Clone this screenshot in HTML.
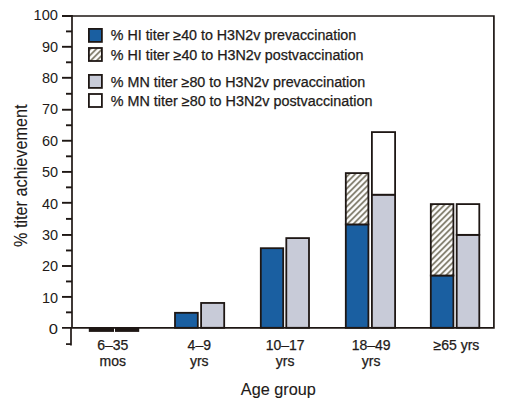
<!DOCTYPE html><html><head><meta charset="utf-8"><style>html,body{margin:0;padding:0;background:#fff;width:511px;height:400px;overflow:hidden}svg{display:block}text{font-family:"Liberation Sans",sans-serif;fill:#221a18;stroke:#221a18;stroke-width:0.25px}</style></head><body>
<svg width="511" height="400" viewBox="0 0 511 400">
<defs>
<pattern id="h" patternUnits="userSpaceOnUse" width="4.243" height="4.243" patternTransform="rotate(45)"><rect width="4.243" height="4.243" fill="#fff"/><rect x="0" y="0" width="1.9" height="4.243" fill="#848070"/></pattern>
</defs>
<g stroke="#1e1714" stroke-width="1.7" fill="none">
<polyline points="62,16 493.9,16 493.9,327.8 62,327.8" stroke-linejoin="miter"/>
<line x1="72" y1="15" x2="72" y2="327.8"/>
<line x1="71" y1="327.8" x2="71" y2="345.6"/>
<line x1="62" y1="296.90" x2="72" y2="296.90" stroke-width="1.9"/>
<line x1="62" y1="266.00" x2="72" y2="266.00" stroke-width="1.9"/>
<line x1="62" y1="234.95" x2="72" y2="234.95" stroke-width="1.9"/>
<line x1="62" y1="202.80" x2="72" y2="202.80" stroke-width="1.9"/>
<line x1="62" y1="171.90" x2="72" y2="171.90" stroke-width="1.9"/>
<line x1="62" y1="140.75" x2="72" y2="140.75" stroke-width="1.9"/>
<line x1="62" y1="109.75" x2="72" y2="109.75" stroke-width="1.9"/>
<line x1="62" y1="77.80" x2="72" y2="77.80" stroke-width="1.9"/>
<line x1="62" y1="46.80" x2="72" y2="46.80" stroke-width="1.9"/>
<line x1="62" y1="16.00" x2="72" y2="16.00" stroke-width="1.9"/>
<line x1="66" y1="312.35" x2="72" y2="312.35" stroke-width="1.9"/>
<line x1="66" y1="281.45" x2="72" y2="281.45" stroke-width="1.9"/>
<line x1="66" y1="250.47" x2="72" y2="250.47" stroke-width="1.9"/>
<line x1="66" y1="218.88" x2="72" y2="218.88" stroke-width="1.9"/>
<line x1="66" y1="187.35" x2="72" y2="187.35" stroke-width="1.9"/>
<line x1="66" y1="156.32" x2="72" y2="156.32" stroke-width="1.9"/>
<line x1="66" y1="125.25" x2="72" y2="125.25" stroke-width="1.9"/>
<line x1="66" y1="93.78" x2="72" y2="93.78" stroke-width="1.9"/>
<line x1="66" y1="62.30" x2="72" y2="62.30" stroke-width="1.9"/>
<line x1="66" y1="31.40" x2="72" y2="31.40" stroke-width="1.9"/>
<line x1="66" y1="344.1" x2="71" y2="344.1"/>
</g>
<text x="58" y="334.10" font-size="15" style="stroke-width:0" text-anchor="end" textLength="9.2" lengthAdjust="spacingAndGlyphs">0</text>
<text x="58" y="302.71" font-size="15" style="stroke-width:0" text-anchor="end" textLength="16.1" lengthAdjust="spacingAndGlyphs">10</text>
<text x="58" y="271.32" font-size="15" style="stroke-width:0" text-anchor="end" textLength="16.1" lengthAdjust="spacingAndGlyphs">20</text>
<text x="58" y="239.93" font-size="15" style="stroke-width:0" text-anchor="end" textLength="16.1" lengthAdjust="spacingAndGlyphs">30</text>
<text x="58" y="208.54" font-size="15" style="stroke-width:0" text-anchor="end" textLength="16.1" lengthAdjust="spacingAndGlyphs">40</text>
<text x="58" y="177.15" font-size="15" style="stroke-width:0" text-anchor="end" textLength="16.1" lengthAdjust="spacingAndGlyphs">50</text>
<text x="58" y="145.76" font-size="15" style="stroke-width:0" text-anchor="end" textLength="16.1" lengthAdjust="spacingAndGlyphs">60</text>
<text x="58" y="114.37" font-size="15" style="stroke-width:0" text-anchor="end" textLength="16.1" lengthAdjust="spacingAndGlyphs">70</text>
<text x="58" y="82.98" font-size="15" style="stroke-width:0" text-anchor="end" textLength="16.1" lengthAdjust="spacingAndGlyphs">80</text>
<text x="58" y="51.59" font-size="15" style="stroke-width:0" text-anchor="end" textLength="16.1" lengthAdjust="spacingAndGlyphs">90</text>
<text x="58" y="20.20" font-size="15" style="stroke-width:0" text-anchor="end" textLength="24.4" lengthAdjust="spacingAndGlyphs">100</text>
<rect x="88.8" y="327.8" width="25.2" height="4.1" fill="#1e1714"/>
<rect x="115" y="327.8" width="24.2" height="4.1" fill="#1e1714"/>
<rect x="175.00" y="312.80" width="22.80" height="15.00" fill="#1a5fa1" stroke="#1e1714" stroke-width="1.8"/>
<rect x="201.10" y="302.95" width="23.10" height="24.85" fill="#c8cbd8" stroke="#1e1714" stroke-width="1.8"/>
<rect x="260.80" y="248.20" width="22.40" height="79.60" fill="#1a5fa1" stroke="#1e1714" stroke-width="1.8"/>
<rect x="286.30" y="238.10" width="22.70" height="89.70" fill="#c8cbd8" stroke="#1e1714" stroke-width="1.8"/>
<rect x="345.80" y="224.40" width="22.60" height="103.40" fill="#1a5fa1" stroke="#1e1714" stroke-width="1.8"/>
<rect x="345.80" y="173.10" width="22.60" height="51.30" fill="url(#h)" stroke="#1e1714" stroke-width="1.8"/>
<rect x="371.90" y="194.70" width="23.20" height="133.10" fill="#c8cbd8" stroke="#1e1714" stroke-width="1.8"/>
<rect x="371.90" y="132.10" width="23.20" height="62.60" fill="#fff" stroke="#1e1714" stroke-width="1.8"/>
<rect x="430.80" y="275.50" width="22.60" height="52.30" fill="#1a5fa1" stroke="#1e1714" stroke-width="1.8"/>
<rect x="430.80" y="204.10" width="22.60" height="71.40" fill="url(#h)" stroke="#1e1714" stroke-width="1.8"/>
<rect x="456.70" y="234.85" width="22.60" height="92.95" fill="#c8cbd8" stroke="#1e1714" stroke-width="1.8"/>
<rect x="456.70" y="204.10" width="22.60" height="30.75" fill="#fff" stroke="#1e1714" stroke-width="1.8"/>
<rect x="88.9" y="28.9" width="13.0" height="13.0" fill="#1a5fa1" stroke="#1e1714" stroke-width="1.8"/>
<text x="110.8" y="40.0" font-size="14" textLength="245.4" lengthAdjust="spacingAndGlyphs">% HI titer ≥40 to H3N2v prevaccination</text>
<rect x="88.9" y="48.0" width="13.0" height="13.0" fill="url(#h)" stroke="#1e1714" stroke-width="1.8"/>
<text x="110.8" y="59.9" font-size="14" textLength="252.6" lengthAdjust="spacingAndGlyphs">% HI titer ≥40 to H3N2v postvaccination</text>
<rect x="88.9" y="74.9" width="13.0" height="13.0" fill="#c8cbd8" stroke="#1e1714" stroke-width="1.8"/>
<text x="110.8" y="86.7" font-size="14" textLength="254.4" lengthAdjust="spacingAndGlyphs">% MN titer ≥80 to H3N2v prevaccination</text>
<rect x="88.9" y="94.0" width="13.0" height="13.0" fill="#fff" stroke="#1e1714" stroke-width="1.8"/>
<text x="110.8" y="106.3" font-size="14" textLength="261.6" lengthAdjust="spacingAndGlyphs">% MN titer ≥80 to H3N2v postvaccination</text>
<text x="112.8" y="349.6" font-size="14" text-anchor="middle">6–35</text>
<text x="112.8" y="365.6" font-size="14" text-anchor="middle">mos</text>
<text x="199.3" y="349.6" font-size="14" text-anchor="middle">4–9</text>
<text x="199.3" y="365.6" font-size="14" text-anchor="middle">yrs</text>
<text x="285.1" y="349.6" font-size="14" text-anchor="middle">10–17</text>
<text x="285.1" y="365.6" font-size="14" text-anchor="middle">yrs</text>
<text x="371.1" y="349.6" font-size="14" text-anchor="middle">18–49</text>
<text x="371.1" y="365.6" font-size="14" text-anchor="middle">yrs</text>
<text x="456.4" y="349.6" font-size="14" text-anchor="middle">≥65 yrs</text>
<text x="240.8" y="394.9" font-size="16.2" style="stroke-width:0.1px" textLength="75" lengthAdjust="spacingAndGlyphs">Age group</text>
<text transform="translate(27.2,247) rotate(-90)" x="0" y="0" font-size="17.5" style="stroke-width:0.1px" textLength="142.5" lengthAdjust="spacingAndGlyphs">% titer achievement</text>
</svg></body></html>
